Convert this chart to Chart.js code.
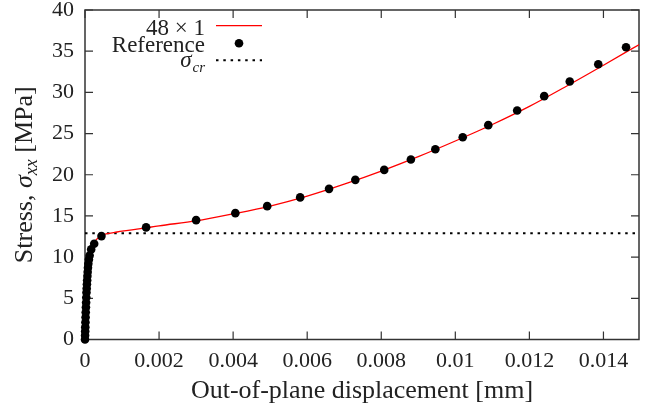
<!DOCTYPE html>
<html>
<head>
<meta charset="utf-8">
<script src="https://cdn.jsdelivr.net/npm/chart.js@4/dist/chart.umd.min.js"></script>
<style>
  html, body { margin: 0; padding: 0; background: #fff; }
  #wrap { width: 659px; height: 414px; }
</style>
</head>
<body>
<div id="wrap"><canvas id="stressChart" width="659" height="414"></canvas></div>
<script>
// 48 x 1 model curve
const modelX = [0, 0.00001, 0.00002, 0.00004, 0.00006, 0.00008, 0.0001, 0.00013, 0.00017, 0.00022,
  0.0003, 0.0004, 0.0005, 0.0006, 0.0008, 0.001, 0.0015, 0.002, 0.003, 0.004,
  0.005, 0.006, 0.007, 0.008, 0.009, 0.010, 0.011, 0.012, 0.013, 0.014, 0.015];
const modelY = [0, 1.5, 3.0, 5.6, 7.6, 8.9, 9.8, 10.5, 11.0, 11.6,
  12.1, 12.45, 12.7, 12.85, 13.0, 13.15, 13.45, 13.8, 14.4, 15.25,
  16.2, 17.4, 18.85, 20.45, 22.2, 24.1, 26.1, 28.3, 30.75, 33.3, 35.9];

// reference solution points
const refX = [0, 0.000002, 0.000005, 0.000008, 0.000012, 0.000016, 0.00002, 0.000025, 0.00003, 0.000035,
  0.00004, 0.000046, 0.000052, 0.000058, 0.000065, 0.000072, 0.00008, 0.00009, 0.000105, 0.000125,
  0.000167, 0.000248, 0.000445, 0.00165, 0.0030, 0.00406, 0.00492, 0.00581, 0.00659, 0.0073,
  0.00808, 0.0088, 0.00946, 0.0102, 0.01089, 0.01167, 0.0124, 0.01309, 0.01386, 0.01461];
const refY = [0, 0.5, 1.0, 1.5, 2.1, 2.7, 3.3, 3.9, 4.5, 5.1,
  5.7, 6.2, 6.7, 7.2, 7.7, 8.2, 8.7, 9.2, 9.7, 10.2,
  10.94, 11.62, 12.55, 13.61, 14.49, 15.34, 16.19, 17.25, 18.29, 19.38,
  20.59, 21.86, 23.1, 24.56, 26.02, 27.8, 29.54, 31.32, 33.41, 35.47];

// critical stress
const sigmaCr = 12.9;

// axes
const xMin = 0;
const xMax = 0.01496;
const xTicks = [0, 0.002, 0.004, 0.006, 0.008, 0.01, 0.012, 0.014];
const xTickLabels = ["0", "0.002", "0.004", "0.006", "0.008", "0.01", "0.012", "0.014"];
const yTicks = [0, 5, 10, 15, 20, 25, 30, 35, 40];

const serif = "'Liberation Serif', 'Times New Roman', serif";
const textColor = "#222";
const frameColor = "#333";

function toPoints(xs, ys) {
  return xs.map((x, i) => ({ x: x, y: ys[i] }));
}

// frame, inward ticks, axis titles and key (gnuplot style)
const plotDecor = {
  id: "plotDecor",
  beforeDatasetsDraw(chart) {
    const ctx = chart.ctx;
    const a = chart.chartArea;
    const xs = chart.scales.x;
    const ys = chart.scales.y;
    ctx.save();
    ctx.strokeStyle = frameColor;
    ctx.lineWidth = 1.5;
    ctx.strokeRect(a.left, a.top, a.right - a.left, a.bottom - a.top);
    ctx.lineWidth = 1.2;
    ctx.beginPath();
    const tl = 8;
    xTicks.forEach(v => {
      const px = xs.getPixelForValue(v);
      ctx.moveTo(px, a.bottom); ctx.lineTo(px, a.bottom - tl);
      ctx.moveTo(px, a.top); ctx.lineTo(px, a.top + tl);
    });
    yTicks.forEach(v => {
      const py = ys.getPixelForValue(v);
      ctx.moveTo(a.left, py); ctx.lineTo(a.left + tl, py);
      ctx.moveTo(a.right, py); ctx.lineTo(a.right - tl, py);
    });
    ctx.stroke();
    ctx.restore();
  },
  afterDraw(chart) {
    const ctx = chart.ctx;
    const a = chart.chartArea;
    ctx.save();
    ctx.fillStyle = textColor;

    // x title
    ctx.font = "26px " + serif;
    ctx.textAlign = "center";
    ctx.textBaseline = "alphabetic";
    ctx.fillText("Out-of-plane displacement [mm]", (a.left + a.right) / 2, 398);

    // y title: Stress, sigma_xx [MPa]
    const parts = [
      { t: "Stress, ", f: "26px " + serif, dy: 0 },
      { t: "σ", f: "italic 26px " + serif, dy: 0 },
      { t: "xx", f: "italic 18px " + serif, dy: 5 },
      { t: " [MPa]", f: "26px " + serif, dy: 0 }
    ];
    let total = 0;
    parts.forEach(p => { ctx.font = p.f; p.w = ctx.measureText(p.t).width; total += p.w; });
    ctx.translate(32, (a.top + a.bottom) / 2);
    ctx.rotate(-Math.PI / 2);
    ctx.textAlign = "left";
    let cx = -total / 2;
    parts.forEach(p => {
      ctx.font = p.f;
      ctx.fillText(p.t, cx, p.dy);
      cx += p.w;
    });
    ctx.setTransform(1, 0, 0, 1, 0, 0);

    // key
    const keyRight = 205;
    const sx0 = 216, sx1 = 262;
    const rows = [35, 52, 67];
    ctx.textAlign = "right";
    ctx.font = "23px " + serif;
    ctx.fillText("48 × 1", keyRight, rows[0]);
    ctx.fillText("Reference", keyRight, rows[1]);
    ctx.font = "italic 15px " + serif;
    const subW = ctx.measureText("cr").width;
    ctx.fillText("cr", keyRight, rows[2] + 5);
    ctx.font = "italic 23px " + serif;
    ctx.fillText("σ", keyRight - subW - 1, rows[2]);

    ctx.strokeStyle = "rgb(255,0,0)";
    ctx.lineWidth = 1.3;
    ctx.beginPath();
    ctx.moveTo(sx0, 25.7); ctx.lineTo(sx1, 25.7);
    ctx.stroke();

    ctx.fillStyle = "#000";
    ctx.beginPath();
    ctx.arc((sx0 + sx1) / 2, 43.3, 4.3, 0, Math.PI * 2);
    ctx.fill();

    ctx.strokeStyle = "#000";
    ctx.lineWidth = 2;
    ctx.setLineDash([2.5, 4.8]);
    ctx.beginPath();
    ctx.moveTo(sx0, 60.3); ctx.lineTo(sx1, 60.3);
    ctx.stroke();
    ctx.restore();
  }
};

const chart = new Chart(document.getElementById("stressChart"), {
  type: "scatter",
  data: {
    datasets: [
      {
        label: "48 × 1",
        data: toPoints(modelX, modelY),
        showLine: true,
        borderColor: "rgb(255,0,0)",
        borderWidth: 1.3,
        pointRadius: 0,
        cubicInterpolationMode: "monotone",
        order: 2
      },
      {
        label: "Reference",
        data: toPoints(refX, refY),
        showLine: false,
        backgroundColor: "#000",
        borderColor: "#000",
        pointRadius: 4.3,
        pointBorderWidth: 0,
        clip: false,
        order: 1
      },
      {
        label: "σcr",
        data: [{ x: xMin, y: sigmaCr }, { x: xMax, y: sigmaCr }],
        showLine: true,
        borderColor: "#000",
        borderWidth: 2,
        borderDash: [2.5, 4.8],
        pointRadius: 0,
        order: 3
      }
    ]
  },
  options: {
    responsive: false,
    animation: false,
    layout: { padding: { top: 10, right: 20, left: 0, bottom: 0 } },
    plugins: {
      legend: { display: false },
      tooltip: { enabled: false }
    },
    scales: {
      x: {
        type: "linear",
        min: xMin,
        max: xMax,
        afterBuildTicks: s => { s.ticks = xTicks.map(v => ({ value: v })); },
        afterFit: s => { s.height = 74.5; s.paddingLeft = 0; s.paddingRight = 0; },
        grid: { display: false, drawTicks: false },
        border: { display: false },
        ticks: {
          padding: 9,
          color: textColor,
          font: { family: serif, size: 22 },
          maxRotation: 0,
          autoSkip: false,
          callback: (v, i) => xTickLabels[i]
        }
      },
      y: {
        type: "linear",
        min: 0,
        max: 40,
        afterBuildTicks: s => { s.ticks = yTicks.map(v => ({ value: v })); },
        afterFit: s => { s.width = 85; s.paddingTop = 0; s.paddingBottom = 0; },
        grid: { display: false, drawTicks: false },
        border: { display: false },
        ticks: {
          padding: 11,
          color: textColor,
          font: { family: serif, size: 22 },
          autoSkip: false,
          callback: v => String(v)
        }
      }
    }
  },
  plugins: [plotDecor]
});
</script>
</body>
</html>
